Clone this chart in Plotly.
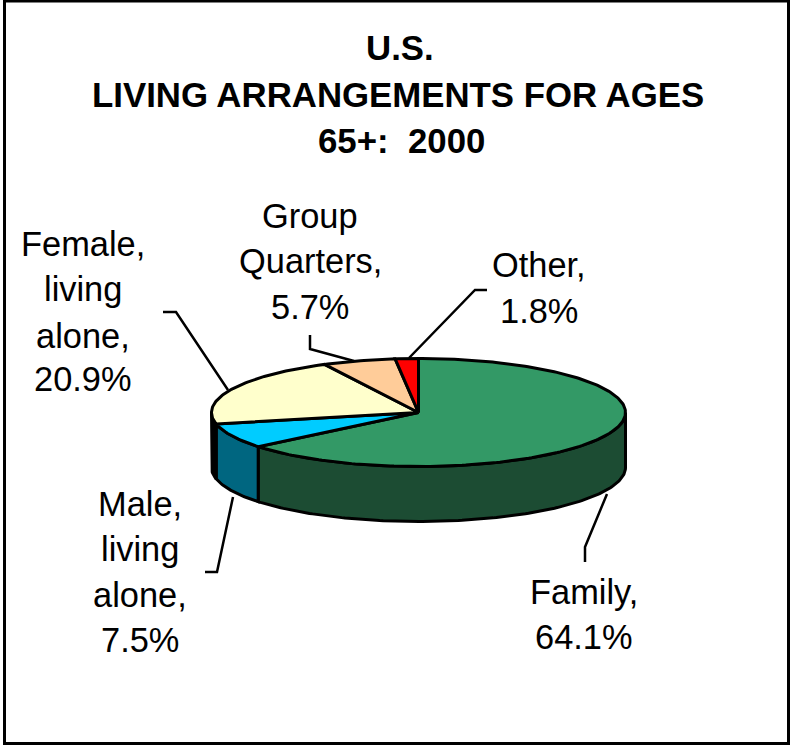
import numpy as np
import plotly.graph_objects as go

# ---- data ----
categories = ["Family", "Male, living alone", "Female, living alone", "Group Quarters", "Other"]
shares = [64.1, 7.5, 20.9, 5.7, 1.8]
top_colors = ["#339966", "#00CCFF", "#FFFFCC", "#FFCC99", "#FF0000"]
side_colors = ["#1C4C33", "#006680", "#000000", "#80664C", "#800000"]
title_lines = ["U.S.", "LIVING ARRANGEMENTS FOR AGES", "65+:  2000"]

# ---- pie geometry, in pixels of the page ----
W, H = 790, 747
CX, CY, RX, RY, DEPTH = 418.5, 412.5, 207, 54, 55
EDGE = dict(color="#000000", width=3)

def rim(a0, a1, drop=0.0):
    t = np.radians(np.linspace(a0, a1, max(2, int(abs(a1 - a0)) + 2)))
    return CX + RX * np.sin(t), CY - RY * np.cos(t) + drop

fig = go.Figure()
edges = np.cumsum([0] + shares) / sum(shares) * 360

# side walls: only the front half of the rim, angles 90..270 degrees
for name, a0, a1, col in zip(categories, edges[:-1], edges[1:], side_colors):
    lo, hi = max(a0, 90), min(a1, 270)
    if lo >= hi:
        continue
    x1, y1 = rim(lo, hi)
    x2, y2 = rim(hi, lo, DEPTH)
    fig.add_trace(go.Scatter(
        x=np.r_[x1, x2, x1[0]], y=np.r_[y1, y2, y1[0]], mode="lines", fill="toself",
        fillcolor=col, line=EDGE, name=name + " side", hoverinfo="skip", showlegend=False))

# top wedges
for name, val, a0, a1, col in zip(categories, shares, edges[:-1], edges[1:], top_colors):
    x, y = rim(a0, a1)
    fig.add_trace(go.Scatter(
        x=np.r_[CX, x, CX], y=np.r_[CY, y, CY], mode="lines", fill="toself",
        fillcolor=col, line=EDGE, name=name,
        text=f"{name}, {val}%", hoverinfo="text", showlegend=False))

# ---- leader lines ----
leaders = [
    [(163, 312), (176, 312), (228, 390)],
    [(310, 335), (310, 349), (354, 361)],
    [(487, 290), (475, 290), (409, 358)],
    [(205, 572), (217, 572), (233, 497)],
    [(585, 562), (585, 547), (607, 494)],
]
for pts in leaders:
    xs, ys = zip(*pts)
    fig.add_trace(go.Scatter(x=xs, y=ys, mode="lines", line=dict(color="#000000", width=2.5),
                             hoverinfo="skip", showlegend=False))

# ---- text, one annotation per line for exact leading ----
FONT = "Liberation Sans, Arial, sans-serif"
anns = []
def put(text, x, y, size, bold=False):
    anns.append(dict(x=x, y=y, xref="x", yref="y", text=f"<b>{text}</b>" if bold else text,
                     showarrow=False, xanchor="center", yanchor="middle",
                     font=dict(family=FONT, size=size, color="#000000")))

for line, x, y in zip(title_lines, [400, 398, 401], [47, 94, 140]):
    put(line, x, y, 34.8, True)

label_blocks = [
    (["Group", "Quarters,", "5.7%"], 310, [216, 261, 307]),
    (["Female,", "living", "alone,", "20.9%"], 83, [244, 289, 336, 379]),
    (["Other,", "1.8%"], 539, [265, 311]),
    (["Male,", "living", "alone,", "7.5%"], 140, [504, 549, 595, 640]),
    (["Family,", "64.1%"], 584, [592, 637]),
]
for lines, x, ys in label_blocks:
    for line, y in zip(lines, ys):
        put(line, x, y, 34.4)

# ---- frame ----
frame = [dict(type="rect", xref="x", yref="y", x0=4.5, y0=1, x1=788.5, y1=743.5,
              line=dict(color="#000000", width=3), fillcolor="rgba(0,0,0,0)", layer="below")]

fig.update_layout(
    width=W, height=H, margin=dict(l=0, r=0, t=0, b=0),
    paper_bgcolor="#FFFFFF", plot_bgcolor="#FFFFFF",
    xaxis=dict(range=[0, W], visible=False, fixedrange=True),
    yaxis=dict(range=[H, 0], visible=False, fixedrange=True),
    annotations=anns, shapes=frame, showlegend=False,
)
fig.write_html("out.html", config={"displayModeBar": False},
               post_script="document.body.style.margin='0';document.documentElement.style.overflow='hidden';")
